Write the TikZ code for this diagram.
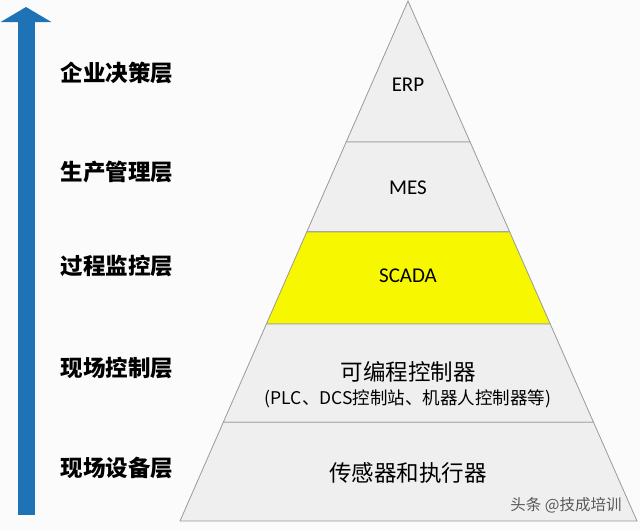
\documentclass[tikz,border=0pt]{standalone}
\usepackage{fontspec}
\setmainfont{Carlito}
\newfontfamily\cjk{Noto Sans CJK SC}
\usetikzlibrary{arrows.meta, positioning, calc}
\definecolor{bgcol}{HTML}{FBFBFB}
\definecolor{layercol}{HTML}{EFEFEF}
\definecolor{edgecol}{HTML}{9A9A9A}
\definecolor{scadacol}{HTML}{F7F700}
\definecolor{arrowcol}{HTML}{1E73B7}

\begin{document}
\begin{tikzpicture}[
    x=1pt, y=-1pt,
    every node/.style={font=\fontsize{20}{24}\selectfont},
    layer/.style={fill=layercol,draw=edgecol,line width=0.8pt},
    lvl/.style={font=\cjk\fontsize{22.5}{26}\selectfont\bfseries},
    inner/.style={font=\fontsize{21}{24}\selectfont},
    wmark/.style={font=\cjk\fontsize{15.5}{18}\selectfont,text=black!65}
  ]
    % Canvas
    \fill[bgcol] (0,0) rectangle (640,531);
    \useasboundingbox (0,0) rectangle (640,531);

    % Pyramid corners
    \coordinate (apex) at (408,1);
    \coordinate (bl) at (180,521);
    \coordinate (br) at (637,521);

    % Layer boundaries
    \coordinate (l1) at ($(apex)!0.271!(bl)$);
    \coordinate (r1) at ($(apex)!0.271!(br)$);
    \coordinate (l2) at ($(apex)!0.444!(bl)$);
    \coordinate (r2) at ($(apex)!0.444!(br)$);
    \coordinate (l3) at ($(apex)!0.621!(bl)$);
    \coordinate (r3) at ($(apex)!0.621!(br)$);
    \coordinate (l4) at ($(apex)!0.810!(bl)$);
    \coordinate (r4) at ($(apex)!0.810!(br)$);

    % Layers
    \draw[layer] (apex) -- (r1) -- (l1) -- cycle;
    \draw[layer] (l1) -- (r1) -- (r2) -- (l2) -- cycle;
    \draw[layer,fill=scadacol] (l2) -- (r2) -- (r3) -- (l3) -- cycle;
    \draw[layer] (l3) -- (r3) -- (r4) -- (l4) -- cycle;
    \draw[layer] (l4) -- (r4) -- (br) -- (bl) -- cycle;

    % Layer contents
    \node[inner] (erp) at (408,85) {ERP};
    \node[inner] (mes) at (408,188) {MES};
    \node[inner] (scada) at (408,276) {SCADA};
    \node[font=\cjk\fontsize{22.5}{26}\selectfont] (plc) at (408,372) {可编程控制器};
    \node[font=\cjk\fontsize{17.5}{20}\selectfont] (plcsub) at (408,399) {(PLC、DCS控制站、机器人控制器等)};
    \node[font=\cjk\fontsize{22.5}{26}\selectfont] (sensor) at (408,473) {传感器和执行器};

    % Level labels
    \node[lvl] (lvl1) at (117,73) {企业决策层};
    \node[lvl] (lvl2) at (117,172) {生产管理层};
    \node[lvl] (lvl3) at (117,266) {过程监控层};
    \node[lvl] (lvl4) at (117,368) {现场控制层};
    \node[lvl] (lvl5) at (117,468) {现场设备层};

    % Upward arrow
    \coordinate (abot) at (26,515);
    \coordinate (atop) at (26,7);
    \draw[arrowcol,line width=17pt,-{Triangle[width=50pt,length=15pt]}] (abot) -- (atop);

    % Watermark
    \node[wmark] (wm) at (566,505) {头条 @技成培训};
\end{tikzpicture}
\end{document}
